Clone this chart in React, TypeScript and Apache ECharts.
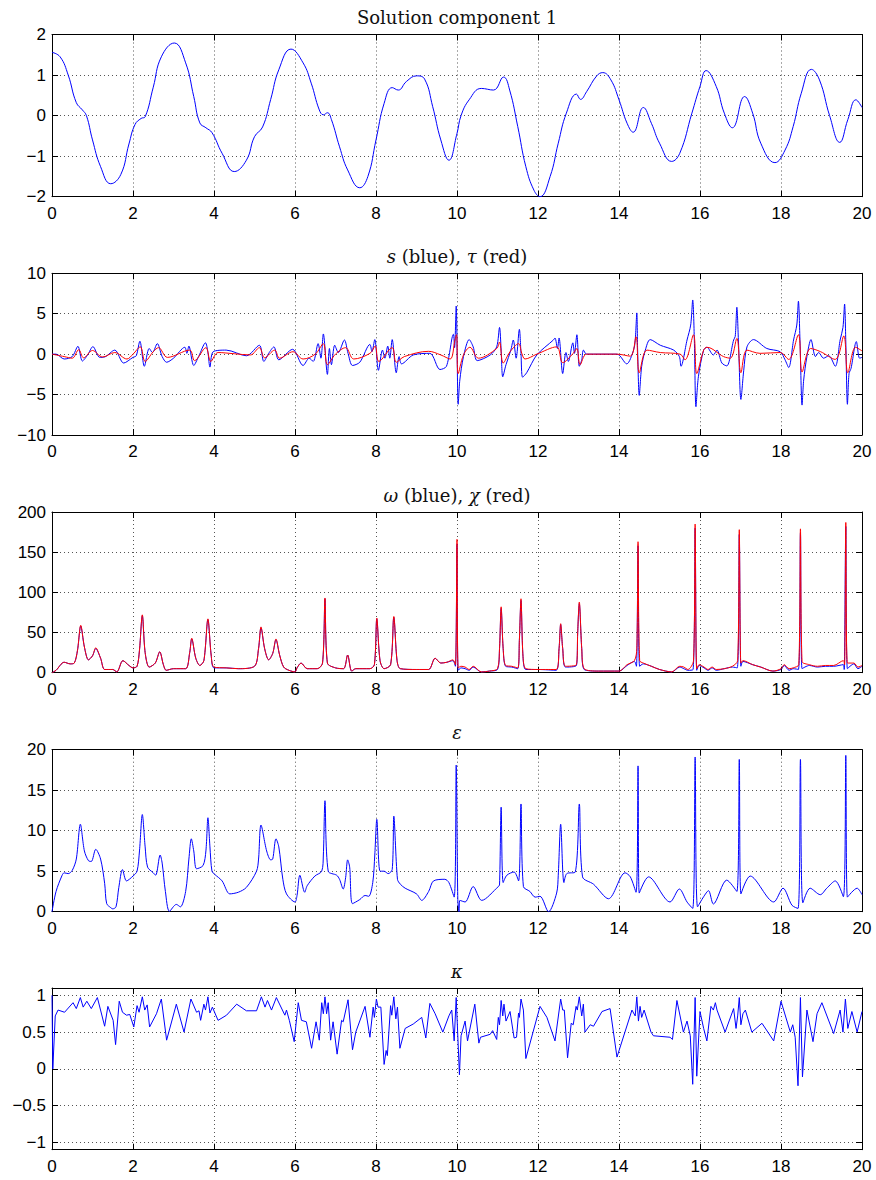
import React, { useEffect, useRef } from 'react';
import * as echarts from 'echarts';

// ---------- data ----------
const xTickLabels = [0, 2, 4, 6, 8, 10, 12, 14, 16, 18, 20];

const titles = [
  'Solution component 1',
  '{i|s} (blue), {i|\u03c4} (red)',
  '{i|\u03c9} (blue), {i|\u03c7} (red)',
  '{i|\u03b5}',
  '{i|\u03ba}',
];

const comp1: [number, number][] = [
  [0, 1.56], [0.2, 1.45], [0.4, 1.0], [0.6, 0.32], [0.75, 0.14], [0.85, 0.0], [1.0, -0.6], [1.2, -1.26],
  [1.45, -1.68], [1.7, -1.45], [1.9, -0.7], [2.05, -0.22], [2.2, -0.07], [2.3, -0.03], [2.5, 0.7],
  [2.7, 1.45], [3.02, 1.79], [3.3, 1.3], [3.5, 0.47], [3.65, -0.18], [3.8, -0.3], [3.95, -0.42],
  [4.2, -0.93], [4.5, -1.38], [4.8, -1.1], [5.0, -0.52], [5.2, -0.28], [5.4, 0.4], [5.6, 1.13],
  [5.9, 1.64], [6.2, 1.3], [6.4, 0.8], [6.6, 0.14], [6.7, 0.02], [6.8, 0.07], [6.9, -0.1], [7.1, -0.77],
  [7.3, -1.34], [7.6, -1.78], [7.8, -1.5], [8.0, -0.6], [8.2, 0.3], [8.4, 0.69], [8.55, 0.63],
  [8.75, 0.84], [9.0, 0.98], [9.2, 0.9], [9.4, 0.22], [9.6, -0.6], [9.8, -1.1], [10.0, -0.44],
  [10.1, 0.0], [10.3, 0.39], [10.6, 0.67], [10.9, 0.63], [11.15, 0.95], [11.3, 0.63], [11.5, -0.27],
  [11.7, -1.26], [11.9, -1.84], [12.05, -2.0], [12.3, -1.5], [12.5, -0.68], [12.7, 0.06], [12.95, 0.53],
  [13.05, 0.4], [13.2, 0.59], [13.45, 0.98], [13.6, 1.06], [13.8, 0.88], [14.0, 0.39], [14.2, -0.19],
  [14.35, -0.41], [14.6, 0.2], [14.8, -0.19], [15.0, -0.68], [15.3, -1.13], [15.5, -0.93], [15.8, 0.06],
  [16.0, 0.72], [16.15, 1.11], [16.4, 0.72], [16.6, 0.06], [16.8, -0.3], [17.1, 0.47], [17.3, 0.06],
  [17.5, -0.68], [17.85, -1.16], [18.1, -0.85], [18.3, -0.27], [18.5, 0.55], [18.75, 1.14],
  [18.95, 0.88], [19.2, 0.0], [19.45, -0.66], [19.65, -0.1], [19.85, 0.39], [20.0, 0.2],
];

const sBlue: [number, number][] = [
  [0, 0], [0.1, 0], [0.3, -0.6], [0.5, -0.3], [0.64, 0.97], [0.75, -0.85], [0.88, -0.1], [1.01, 0.93],
  [1.18, -0.4], [1.3, -0.35], [1.55, 0.5], [1.77, -1.1], [2.0, -0.4], [2.08, -0.2], [2.17, 1.6],
  [2.28, -1.5], [2.4, 0.7], [2.48, 0.2], [2.6, 1.3], [2.72, -0.3], [2.83, -1.0], [3.0, -0.5],
  [3.28, 0.85], [3.33, 0.1], [3.38, 1.0], [3.5, -1.4], [3.62, -0.3], [3.79, 1.4], [3.85, 0.2],
  [3.9, -1.6], [3.98, 0.3], [4.3, 0.5], [4.8, -0.2], [5.12, 1.1], [5.23, -0.9], [5.35, 0.1],
  [5.48, 0.9], [5.6, -0.7], [5.94, 0.6], [6.2, -1.4], [6.35, -0.5], [6.45, -0.9], [6.57, 1.3],
  [6.64, -0.5], [6.7, 2.5], [6.8, -2.5], [6.85, 0.7], [6.9, -1.3], [6.98, 1.1], [7.07, 0.2],
  [7.22, 1.75], [7.31, 0.1], [7.42, -1.4], [7.6, -1.0], [7.85, 1.2], [7.9, 0.3], [7.97, 1.8],
  [8.06, -2.0], [8.16, 0.5], [8.22, -0.5], [8.29, 1.0], [8.34, -0.5], [8.4, 1.8], [8.5, -2.3],
  [8.57, -0.3], [8.63, -1.2], [8.92, -0.1], [9.33, 0.1], [9.58, -1.9], [9.74, -1.5], [9.91, 2.45],
  [9.94, 0.8], [9.98, 5.95], [10.03, -6.2], [10.07, -3.2], [10.16, -0.3], [10.3, 1.8], [10.4, 0.9],
  [10.5, -0.8], [10.82, -0.1], [10.98, 0.9], [11.05, 3.3], [11.09, 0.5], [11.13, -2.8], [11.21, -1.3],
  [11.33, 0.5], [11.39, 1.75], [11.46, -0.5], [11.54, 3.07], [11.58, 0.1], [11.62, -2.85],
  [11.72, -2.3], [11.97, -0.1], [12.38, 1.75], [12.42, 2.0], [12.48, 0.7], [12.52, 2.0], [12.61, -2.4],
  [12.69, 0.2], [12.75, -0.9], [12.86, 1.4], [12.9, 0.1], [12.96, 2.4], [13.02, -1.5], [13.08, -0.7],
  [13.12, 0.5], [13.2, 0.0], [13.95, 0.0], [14.19, -1.2], [14.36, 0.5], [14.4, 1.7], [14.44, 5.1],
  [14.46, 0.5], [14.5, -5.1], [14.56, -1.5], [14.65, 0.5], [14.77, 1.8], [15.02, 1.1], [15.35, 0.5],
  [15.49, -0.3], [15.53, -1.5], [15.68, 1.75], [15.77, 3.6], [15.82, 6.7], [15.86, 1.8], [15.9, -6.5],
  [15.96, -2.8], [16.09, 0.5], [16.17, 0.85], [16.33, -0.1], [16.42, 0.5], [16.54, -1.1],
  [16.66, -1.45], [16.83, 1.75], [16.87, 2.2], [16.91, 5.8], [16.95, 1.5], [17.01, -5.6], [17.08, -2.0],
  [17.16, 0.9], [17.32, 1.8], [17.65, 0.7], [17.98, 0.3], [18.1, -0.7], [18.19, -1.65], [18.31, 1.75],
  [18.39, 3.6], [18.43, 6.55], [18.47, 1.5], [18.52, -6.3], [18.56, -3.2], [18.64, -0.3], [18.74, 1.8],
  [18.85, -0.3], [18.93, 0.2], [19.05, -0.5], [19.18, -0.2], [19.34, -1.5], [19.46, 1.75],
  [19.53, 3.3], [19.57, 6.2], [19.6, 1.5], [19.64, -6.2], [19.68, -2.4], [19.73, -1.75], [19.86, 1.55],
  [19.94, -0.5], [20.0, -0.4],
];

const tauRed: [number, number][] = [
  [0, 0], [0.3, -0.3], [0.5, -0.5], [0.66, 0.55], [0.78, -0.45], [1.0, 0.45], [1.25, -0.35],
  [1.55, 0.2], [1.85, -0.6], [2.0, 0.0], [2.18, 0.9], [2.3, -0.9], [2.5, 0.3], [2.63, 0.8], [2.85, -0.4],
  [3.4, 0.5], [3.52, -0.8], [3.8, 0.8], [3.92, -0.9], [4.1, 0.2], [4.5, 0.05], [4.9, -0.1], [5.12, 0.8],
  [5.25, -0.45], [5.5, 0.5], [5.62, -0.5], [5.95, 0.3], [6.2, -0.6], [6.5, 0.0], [6.7, 1.3],
  [6.8, -1.3], [7.0, 0.0], [7.25, 0.8], [7.45, -0.6], [7.85, 0.1], [7.98, 1.0], [8.07, -0.9],
  [8.4, 0.8], [8.5, -1.0], [8.7, -0.3], [9.3, 0.35], [9.6, -0.1], [9.83, -0.6], [9.95, 1.75],
  [9.99, 2.4], [10.03, -2.4], [10.16, -0.1], [10.32, 0.85], [10.53, -0.5], [10.98, 0.7], [11.05, 1.5],
  [11.14, -1.1], [11.31, 0.3], [11.52, 1.3], [11.6, 0.1], [11.68, -0.6], [11.97, 0.0], [12.46, 0.9],
  [12.61, -1.05], [12.87, 0.1], [12.96, 0.7], [13.04, -1.3], [13.2, 0.0], [13.95, 0.0], [14.28, -0.25],
  [14.42, 2.15], [14.5, -2.3], [14.69, 0.5], [15.02, 0.2], [15.51, 0.0], [15.63, -0.7], [15.84, 2.4],
  [15.92, -2.4], [16.09, 0.5], [16.17, 0.85], [16.58, -0.3], [16.75, -0.5], [16.91, 1.95], [17.01, -2.3],
  [17.16, 0.5], [17.48, 0.1], [17.98, 0.2], [18.19, -0.65], [18.43, 2.4], [18.52, -2.2], [18.73, 0.7],
  [18.98, 0.3], [19.34, -0.65], [19.55, 2.25], [19.65, -2.3], [19.84, 0.85], [20.0, 0.4],
];

const chiRed: [number, number][] = [
  [0, 0], [0.1, 3], [0.3, 13], [0.45, 11], [0.55, 12], [0.63, 28], [0.71, 59], [0.8, 32], [0.9, 16],
  [1.0, 21], [1.08, 31], [1.2, 18], [1.3, 4], [1.5, 4], [1.6, 1], [1.75, 15], [1.9, 9], [2.0, 6],
  [2.1, 8], [2.16, 28], [2.23, 72], [2.3, 25], [2.4, 7], [2.55, 12], [2.66, 26], [2.75, 10], [2.82, 3],
  [3.0, 5], [3.3, 5], [3.4, 25], [3.45, 43], [3.55, 18], [3.65, 9], [3.75, 15], [3.85, 67], [3.93, 22],
  [4.0, 7], [4.3, 6], [4.6, 5], [5.0, 8], [5.1, 30], [5.16, 57], [5.25, 30], [5.35, 16], [5.45, 24],
  [5.53, 42], [5.62, 22], [5.72, 7], [5.85, 3], [6.0, 1], [6.05, 6], [6.15, 12], [6.3, 5], [6.55, 5],
  [6.68, 12], [6.74, 93], [6.8, 12], [7.0, 6], [7.2, 5], [7.3, 22], [7.4, 2], [7.5, 5], [7.85, 5],
  [7.96, 10], [8.02, 68], [8.1, 15], [8.2, 5], [8.36, 10], [8.44, 70], [8.52, 15], [8.6, 5], [9.0, 4],
  [9.3, 4], [9.46, 18], [9.6, 12], [9.75, 13], [9.9, 16], [9.96, 10], [10.0, 166], [10.03, 6],
  [10.1, 8], [10.2, 7], [10.3, 4], [10.4, 8], [10.6, 1], [10.8, 2], [11.0, 5], [11.05, 30], [11.09, 82],
  [11.14, 30], [11.2, 9], [11.35, 8], [11.5, 6], [11.54, 40], [11.58, 92], [11.63, 20], [11.7, 5],
  [12.0, 4], [12.45, 4], [12.52, 30], [12.56, 61], [12.61, 30], [12.68, 8], [12.95, 10], [12.98, 50],
  [13.02, 88], [13.08, 30], [13.14, 5], [13.5, 2], [14.0, 2], [14.2, 10], [14.38, 15], [14.44, 30],
  [14.47, 163], [14.51, 15], [14.6, 12], [14.8, 8], [15.0, 4], [15.3, 1], [15.5, 8], [15.6, 7],
  [15.7, 4], [15.84, 15], [15.88, 185], [15.92, 5], [15.98, 10], [16.1, 7], [16.2, 4], [16.3, 7],
  [16.4, 4], [16.6, 5], [16.8, 8], [16.93, 15], [16.97, 178], [17.01, 12], [17.06, 15], [17.3, 10],
  [17.5, 7], [17.8, 2], [18.0, 5], [18.08, 10], [18.2, 5], [18.3, 6], [18.44, 10], [18.48, 179],
  [18.52, 14], [18.7, 10], [18.9, 8], [19.1, 9], [19.3, 9], [19.54, 15], [19.57, 10], [19.6, 187],
  [19.64, 12], [19.8, 12], [19.9, 7], [20.0, 9],
];

const omegaBlue: [number, number][] = [
  [0, 0], [0.1, 3], [0.3, 13], [0.45, 11], [0.55, 12], [0.63, 28], [0.71, 58], [0.8, 32], [0.9, 16],
  [1.0, 21], [1.08, 30], [1.2, 18], [1.3, 4], [1.5, 4], [1.6, 1], [1.75, 15], [1.9, 9], [2.0, 6],
  [2.1, 8], [2.16, 28], [2.23, 71], [2.3, 25], [2.4, 7], [2.55, 12], [2.66, 26], [2.75, 10], [2.82, 3],
  [3.0, 5], [3.3, 5], [3.4, 25], [3.45, 42], [3.55, 18], [3.65, 9], [3.75, 15], [3.85, 66], [3.93, 22],
  [4.0, 6], [4.3, 6], [4.6, 5], [5.0, 8], [5.1, 30], [5.16, 56], [5.25, 30], [5.35, 16], [5.45, 24],
  [5.53, 41], [5.62, 22], [5.72, 7], [5.85, 3], [6.0, 1], [6.05, 6], [6.15, 12], [6.3, 5], [6.55, 5],
  [6.68, 12], [6.74, 92], [6.8, 12], [7.0, 6], [7.2, 5], [7.3, 22], [7.4, 2], [7.5, 5], [7.85, 5],
  [7.96, 10], [8.02, 67], [8.1, 15], [8.2, 5], [8.36, 10], [8.44, 69], [8.52, 15], [8.6, 5], [9.0, 4],
  [9.3, 4], [9.46, 18], [9.6, 12], [9.75, 13], [9.9, 15], [9.96, 8], [10.0, 160], [10.03, 3],
  [10.1, 6], [10.2, 5], [10.3, 3], [10.4, 7], [10.6, 1], [10.8, 2], [11.0, 4], [11.05, 30], [11.09, 80],
  [11.14, 30], [11.2, 8], [11.35, 7], [11.5, 5], [11.54, 40], [11.58, 90], [11.63, 20], [11.7, 4],
  [12.0, 4], [12.45, 3], [12.52, 30], [12.56, 60], [12.61, 30], [12.68, 7], [12.95, 9], [12.98, 50],
  [13.02, 86], [13.08, 30], [13.14, 4], [13.5, 2], [14.0, 2], [14.2, 9], [14.38, 14], [14.43, 8],
  [14.47, 158], [14.51, 8], [14.6, 11], [14.8, 8], [15.0, 4], [15.3, 1], [15.5, 7], [15.6, 5],
  [15.7, 3], [15.83, 4], [15.88, 180], [15.92, 3], [15.98, 9], [16.1, 6], [16.2, 3], [16.3, 6],
  [16.4, 3], [16.6, 5], [16.8, 7], [16.92, 6], [16.97, 172], [17.01, 8], [17.06, 14], [17.3, 10],
  [17.5, 7], [17.8, 2], [18.0, 4], [18.08, 9], [18.2, 3], [18.3, 5], [18.43, 4], [18.48, 174],
  [18.52, 5], [18.7, 9], [18.9, 7], [19.1, 8], [19.3, 8], [19.54, 10], [19.56, 4], [19.6, 182],
  [19.64, 5], [19.8, 11], [19.9, 5], [20.0, 8],
];

const epsilon: [number, number][] = [
  [0, 0], [0.1, 2.5], [0.25, 4.5], [0.3, 4.8], [0.4, 4.7], [0.5, 5.1], [0.6, 6.5], [0.7, 10.8],
  [0.8, 7.5], [0.9, 6.3], [0.97, 6.2], [1.08, 7.7], [1.2, 6.5], [1.3, 3.5], [1.35, 1.0], [1.45, 0.5],
  [1.5, 0.35], [1.58, 0.6], [1.65, 3.0], [1.74, 5.2], [1.84, 3.8], [2.0, 4.4], [2.1, 5.0], [2.16, 7.5],
  [2.23, 12], [2.3, 8], [2.36, 5.5], [2.5, 4.8], [2.56, 4.5], [2.67, 7.0], [2.72, 6.0], [2.8, 2.5],
  [2.9, 0.05], [3.07, 0.9], [3.17, 0.6], [3.3, 2.5], [3.38, 6.5], [3.44, 9.0], [3.5, 7.5], [3.57, 5.3],
  [3.73, 5.7], [3.8, 7.5], [3.85, 11.6], [3.9, 8], [3.95, 5.0], [4.02, 4.6], [4.2, 3.8], [4.39, 2.2],
  [4.6, 2.4], [4.8, 3.0], [5.05, 5.0], [5.1, 6.5], [5.16, 10.7], [5.3, 7.5], [5.4, 6.4], [5.45, 6.5],
  [5.53, 9.0], [5.6, 8.0], [5.7, 4.0], [5.79, 2.2], [6.0, 1.2], [6.05, 2.0], [6.12, 4.5], [6.24, 2.4],
  [6.3, 3.2], [6.49, 4.4], [6.66, 5.0], [6.7, 7], [6.74, 13.7], [6.82, 5.0], [7.03, 4.5], [7.1, 4.0],
  [7.19, 2.8], [7.25, 4.2], [7.3, 6.4], [7.35, 5.5], [7.42, 1.0], [7.6, 1.5], [7.73, 2.0], [7.82, 1.9],
  [7.92, 3.6], [7.97, 7], [8.02, 11.4], [8.1, 5.0], [8.2, 5.0], [8.3, 4.7], [8.4, 5.2], [8.44, 11.8],
  [8.53, 4.0], [8.6, 3.4], [8.72, 2.9], [9.0, 2.2], [9.13, 1.4], [9.3, 2.5], [9.42, 3.8], [9.7, 4.0],
  [9.8, 3.6], [9.93, 1.8], [9.98, 18.1], [10.02, 1.5], [10.05, 0], [10.07, 1.4], [10.2, 1.2],
  [10.4, 3.1], [10.61, 1.4], [11.02, 3.1], [11.05, 3.3], [11.09, 12.9], [11.14, 3.6], [11.23, 4.5],
  [11.41, 4.9], [11.52, 3.8], [11.58, 13.3], [11.64, 3.1], [11.8, 2.5], [11.93, 1.8], [12.05, 1.9],
  [12.26, 0.0], [12.46, 2.3], [12.5, 4.5], [12.56, 10.8], [12.64, 3.6], [12.71, 4.7], [12.92, 4.9],
  [13.02, 13.3], [13.1, 4.3], [13.37, 3.4], [13.74, 1.6], [14.15, 4.8], [14.28, 4.3], [14.42, 2.4],
  [14.47, 18.0], [14.5, 2.3], [14.73, 4.3], [15.26, 1.2], [15.49, 2.8], [15.68, 1.2], [15.82, 0.4],
  [15.88, 19.1], [15.94, 0.6], [16.09, 1.85], [16.21, 2.6], [16.33, 0.95], [16.66, 3.9], [16.91, 2.5],
  [16.97, 18.8], [17.01, 2.2], [17.24, 4.4], [17.82, 1.2], [18.05, 2.9], [18.27, 0.8], [18.42, 0.4],
  [18.48, 18.8], [18.54, 1.1], [18.72, 2.9], [18.97, 2.1], [19.13, 2.9], [19.34, 3.8], [19.54, 1.85],
  [19.6, 19.3], [19.64, 1.8], [19.88, 2.9], [20.0, 2.1],
];

const kappa: [number, number][] = [
  [0, 1.0], [0.02, 0.0], [0.08, 0.72], [0.15, 0.8], [0.31, 0.77], [0.52, 0.9], [0.6, 0.82], [0.7, 0.97],
  [0.77, 0.84], [0.86, 0.92], [0.97, 0.82], [1.12, 0.97], [1.3, 0.58], [1.38, 0.85], [1.51, 0.66],
  [1.57, 0.33], [1.66, 0.92], [1.74, 0.77], [1.84, 0.73], [1.92, 0.74], [2.02, 0.57], [2.1, 0.86],
  [2.15, 0.77], [2.23, 0.98], [2.29, 0.8], [2.35, 0.87], [2.41, 0.57], [2.58, 0.75], [2.7, 0.95],
  [2.83, 0.39], [3.07, 0.88], [3.26, 0.5], [3.43, 0.95], [3.57, 0.77], [3.63, 0.79], [3.67, 0.66],
  [3.75, 0.88], [3.79, 0.8], [3.85, 0.98], [3.9, 0.76], [3.96, 0.84], [4.1, 0.66], [4.31, 0.73],
  [4.56, 0.88], [4.8, 0.79], [5.05, 0.79], [5.17, 0.98], [5.26, 0.84], [5.32, 0.93], [5.42, 0.8],
  [5.54, 0.97], [5.75, 0.73], [5.79, 0.8], [5.86, 0.66], [5.98, 0.37], [6.08, 0.9], [6.16, 0.66],
  [6.28, 0.64], [6.41, 0.28], [6.52, 0.64], [6.6, 0.39], [6.66, 0.9], [6.7, 0.75], [6.74, 0.98],
  [6.78, 0.75], [6.82, 0.9], [6.88, 0.39], [6.94, 0.64], [7.04, 0.2], [7.15, 0.66], [7.19, 0.64],
  [7.31, 0.94], [7.42, 0.26], [7.5, 0.5], [7.73, 0.85], [7.85, 0.43], [7.93, 0.84], [7.96, 0.7],
  [8.01, 0.95], [8.05, 0.84], [8.12, 0.84], [8.2, 0.06], [8.25, 0.25], [8.28, 0.18], [8.36, 0.86],
  [8.39, 0.73], [8.44, 0.98], [8.49, 0.68], [8.53, 0.84], [8.59, 0.28], [8.72, 0.55], [8.92, 0.61],
  [9.13, 0.7], [9.23, 0.42], [9.33, 0.89], [9.46, 0.75], [9.65, 0.5], [9.8, 0.72], [9.87, 0.8],
  [9.93, 0.38], [9.98, 0.97], [10.06, -0.08], [10.1, 0.45], [10.2, 0.65], [10.26, 0.38], [10.44, 0.88],
  [10.54, 0.35], [10.58, 0.43], [10.82, 0.47], [10.88, 0.52], [10.98, 0.4], [11.02, 0.7], [11.05, 0.6],
  [11.09, 0.93], [11.13, 0.72], [11.16, 0.88], [11.21, 0.65], [11.31, 0.78], [11.41, 0.42],
  [11.47, 0.43], [11.52, 0.76], [11.54, 0.7], [11.58, 0.95], [11.64, 0.8], [11.7, 0.14], [12.05, 0.85],
  [12.22, 0.7], [12.42, 0.38], [12.56, 0.95], [12.61, 0.8], [12.65, 0.8], [12.73, 0.15], [12.82, 0.62],
  [12.87, 0.6], [12.94, 0.85], [12.97, 0.8], [13.02, 0.98], [13.08, 0.72], [13.12, 0.88], [13.16, 0.5],
  [13.29, 0.6], [13.37, 0.58], [13.58, 0.78], [13.78, 0.82], [13.95, 0.16], [14.32, 0.8], [14.4, 0.72],
  [14.44, 0.98], [14.48, 0.65], [14.52, 0.85], [14.56, 0.7], [14.62, 0.8], [14.79, 0.5], [14.85, 0.45],
  [15.26, 0.43], [15.32, 0.4], [15.43, 0.93], [15.59, 0.5], [15.68, 0.65], [15.76, 0.45], [15.82, -0.21],
  [15.88, 0.97], [15.92, -0.1], [16.0, 0.78], [16.09, 0.55], [16.17, 0.38], [16.27, 0.85], [16.33, 0.8],
  [16.38, 0.9], [16.42, 0.8], [16.62, 0.5], [16.83, 0.82], [16.89, 0.55], [16.93, 0.72], [16.97, 0.97],
  [17.01, 0.6], [17.06, 0.75], [17.12, 0.8], [17.28, 0.5], [17.53, 0.62], [17.82, 0.38], [18.0, 0.92],
  [18.23, 0.5], [18.29, 0.6], [18.35, 0.43], [18.42, -0.23], [18.48, 0.97], [18.53, -0.11], [18.64, 0.8],
  [18.79, 0.37], [18.89, 0.75], [19.01, 0.9], [19.3, 0.48], [19.46, 0.8], [19.53, 0.5], [19.59, 0.95],
  [19.65, 0.55], [19.75, 0.78], [19.88, 0.5], [20.0, 0.78],
];

// y-axis ranges: [min, max, interval]
const yRanges: [number, number, number | null][] = [
  [-2, 2, 1],
  [-10, 10, 5],
  [0, 200, 50],
  [0, 20, 5],
  [-1.1, 1.1, null],
];

// ---------- layout ----------
const LEFT = 52;
const WIDTH = 810;
const TOPS = [34.5, 273.3, 512, 749.7, 988];
const HEIGHTS = [162.2, 161.7, 160.7, 162, 161.7];
const BLUE = '#0000ff';
const RED = '#ff0000';
const TICK_FONT = '"Liberation Sans", Arial, Helvetica, sans-serif';
const TITLE_FONT = '"DejaVu Serif", "Liberation Serif", serif';

const fmt = (v: number) => {
  const r = Math.round(v * 100) / 100;
  return r < 0 ? '\u2212' + Math.abs(r) : String(r);
};

export default function App() {
  const ref = useRef<HTMLDivElement>(null);

  useEffect(() => {
    if (!ref.current) return;
    const chart = echarts.init(ref.current, null, { renderer: 'svg' });

    const grids = TOPS.map((top, i) => ({
      left: LEFT,
      top,
      width: WIDTH,
      height: HEIGHTS[i],
      containLabel: false,
    }));

    const axisLine = { show: true, onZero: false, lineStyle: { color: '#000', width: 1 } };
    const tick = { show: true, inside: true, length: 6, lineStyle: { color: '#000', width: 1 } };
    const split = { show: true, lineStyle: { color: '#555', width: 1, type: [1, 3] as any } };

    const xAxes: any[] = [];
    const yAxes: any[] = [];
    TOPS.forEach((_, i) => {
      const xBase = {
        type: 'value',
        gridIndex: i,
        min: xTickLabels[0],
        max: xTickLabels[xTickLabels.length - 1],
        interval: xTickLabels[1] - xTickLabels[0],
        axisLine,
        axisTick: tick,
        splitLine: { show: false },
        axisLabel: { show: false },
      };
      xAxes.push({
        ...xBase,
        position: 'bottom',
        splitLine: split,
        axisLabel: {
          show: true,
          color: '#000',
          fontSize: 17,
          fontFamily: TICK_FONT,
          margin: 8,
          formatter: fmt,
        },
      });
      xAxes.push({ ...xBase, position: 'top' });

      const [mn, mx, iv] = yRanges[i];
      const yBase: any = {
        type: 'value',
        gridIndex: i,
        min: mn,
        max: mx,
        axisLine,
        axisTick: tick,
        splitLine: { show: false },
        axisLabel: { show: false },
      };
      if (iv !== null) yBase.interval = iv;
      else yBase.splitNumber = 5;
      yAxes.push({
        ...yBase,
        position: 'left',
        splitLine: split,
        axisLabel: {
          show: true,
          color: '#000',
          fontSize: 17,
          fontFamily: TICK_FONT,
          margin: 6,
          formatter: fmt,
          showMinLabel: iv !== null,
          showMaxLabel: iv !== null,
        },
      });
      yAxes.push({ ...yBase, position: 'right' });
    });

    const line = (data: [number, number][], grid: number, color: string, smooth: number | boolean, z = 2) => ({
      type: 'line',
      xAxisIndex: grid * 2,
      yAxisIndex: grid * 2,
      data,
      showSymbol: false,
      symbol: 'none',
      smooth,
      silent: true,
      z,
      lineStyle: { color, width: 1 },
      itemStyle: { color },
    });

    const series = [
      line(comp1, 0, BLUE, 0.45),
      line(sBlue, 1, BLUE, 0.3),
      line(tauRed, 1, RED, 0.35, 3),
      line(omegaBlue, 2, BLUE, 0.3),
      line(chiRed, 2, RED, 0.3, 3),
      line(epsilon, 3, BLUE, 0.3),
      line(kappa, 4, BLUE, false),
    ];

    const graphic = titles.map((t, i) => ({
      type: 'text',
      x: LEFT + WIDTH / 2,
      y: TOPS[i] - 17,
      silent: true,
      style: {
        text: t,
        fill: '#111',
        fontSize: 18,
        fontFamily: TITLE_FONT,
        align: 'center',
        verticalAlign: 'middle',
        textAlign: 'center',
        textVerticalAlign: 'middle',
        rich: {
          i: {
            fontStyle: 'italic',
            fontSize: 18,
            fontFamily: TITLE_FONT,
            fill: '#111',
          },
        },
      },
    }));

    chart.setOption({
      animation: false,
      backgroundColor: '#fff',
      grid: grids,
      xAxis: xAxes,
      yAxis: yAxes,
      series,
      graphic,
    });

    return () => chart.dispose();
  }, []);

  return (
    <div
      ref={ref}
      style={{ position: 'absolute', left: 0, top: 0, width: 876, height: 1180, background: '#fff' }}
    />
  );
}
